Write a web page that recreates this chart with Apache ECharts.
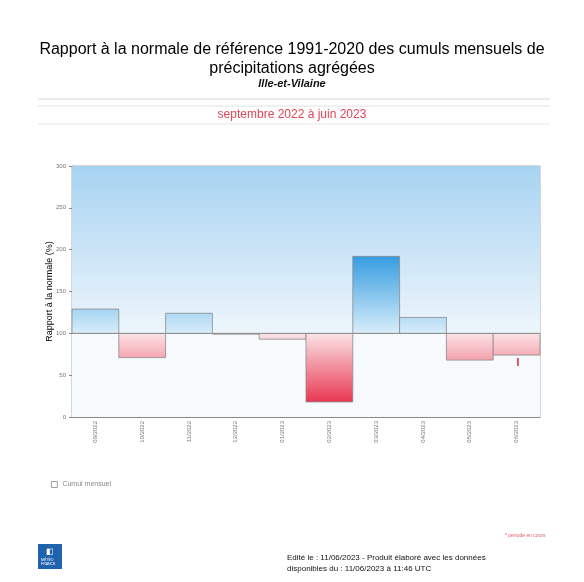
<!DOCTYPE html>
<html>
<head>
<meta charset="utf-8">
<script src="https://cdn.jsdelivr.net/npm/echarts@6/dist/echarts.min.js"></script>
<style>
  html, body { margin: 0; padding: 0; background: #fff; }
  #chart { width: 584px; height: 582px; }
</style>
</head>
<body>
<div id="chart"></div>
<script>
// mois et rapport à la normale (%)
var months = ['09/2022', '10/2022', '11/2022', '12/2022', '01/2023',
              '02/2023', '03/2023', '04/2023', '05/2023', '06/2023'];
var ratios = [129, 71, 124, 99, 93, 18, 192, 119, 68, 74];
var yTicks = [0, 50, 100, 150, 200, 250, 300];
var normale = 100;

var myChart = echarts.init(document.getElementById('chart'));

function renderBar(params, api) {
    var i = api.value(0);
    var v = api.value(1);
    var pBase = api.coord([i, normale]);
    var pVal = api.coord([i, v]);
    var w = api.size([1, 0])[0];
    var x = pBase[0] - w / 2;
    var fill;
    if (v >= normale) {
        var p200 = api.coord([i, 200]);
        fill = new echarts.graphic.LinearGradient(0, pBase[1], 0, p200[1], [
            {offset: 0, color: '#d8edfa'},
            {offset: 1, color: '#2896de'}
        ], true);
    } else {
        var p0 = api.coord([i, 15]);
        fill = new echarts.graphic.LinearGradient(0, pBase[1], 0, p0[1], [
            {offset: 0, color: '#fbe3e6'},
            {offset: 1, color: '#e8324d'}
        ], true);
    }
    var top = Math.min(pBase[1], pVal[1]);
    var h = Math.abs(pBase[1] - pVal[1]);
    var children = [{
        type: 'rect',
        shape: {x: x, y: top, width: w, height: h},
        style: {fill: fill, stroke: '#8a8a8a', lineWidth: 0.8}
    }];
    // mois en cours : petit repère rouge
    if (params.dataIndex === months.length - 1) {
        children.push({
            type: 'rect',
            shape: {x: pVal[0] + 0.5, y: pVal[1] + 3, width: 1.6, height: 8},
            style: {fill: '#e03048'}
        });
    }
    return {type: 'group', children: children};
}

var option = {
    backgroundColor: '#ffffff',
    textStyle: {fontFamily: 'Liberation Sans, Arial, sans-serif'},
    title: {
        text: 'Rapport à la normale de référence 1991-2020 des cumuls mensuels de\nprécipitations agrégées',
        subtext: 'Ille-et-Vilaine',
        left: 'center',
        top: 35,
        itemGap: 0,
        textStyle: {fontSize: 16, fontWeight: 'normal', color: '#000', lineHeight: 19},
        subtextStyle: {fontSize: 11, fontWeight: 'bold', fontStyle: 'italic', color: '#111'}
    },
    legend: {
        data: [{name: 'Cumul mensuel', icon: 'rect', itemStyle: {color: '#fff', borderColor: '#888', borderWidth: 0.8}}],
        left: 46,
        top: 476,
        itemWidth: 6,
        itemHeight: 6,
        itemGap: 4,
        textStyle: {fontSize: 7, color: '#888'}
    },
    grid: {
        left: 72,
        top: 166,
        width: 468,
        height: 251,
        show: true,
        borderColor: '#9a9a9a',
        borderWidth: 0.8
    },
    xAxis: {
        type: 'category',
        data: months,
        boundaryGap: true,
        axisLine: {lineStyle: {color: '#888'}},
        axisTick: {show: false},
        axisLabel: {rotate: 90, fontSize: 6, color: '#777', margin: 4}
    },
    yAxis: {
        type: 'value',
        min: yTicks[0],
        max: yTicks[yTicks.length - 1],
        interval: 50,
        name: 'Rapport à la normale (%)',
        nameLocation: 'middle',
        nameGap: 18,
        nameMoveOverlap: false,
        nameTextStyle: {fontSize: 9, color: '#000'},
        axisLine: {show: true, lineStyle: {color: '#888'}},
        axisTick: {show: true, length: 3, lineStyle: {color: '#888'}},
        axisLabel: {fontSize: 6, color: '#777', margin: 6},
        splitLine: {show: false}
    },
    series: [{
        name: 'Cumul mensuel',
        type: 'custom',
        renderItem: renderBar,
        data: ratios.map(function (v, i) { return [i, v]; }),
        encode: {x: 0, y: 1},
        z: 3,
        markArea: {
            silent: true,
            z: 1,
            data: [
                [{yAxis: normale, itemStyle: {color: new echarts.graphic.LinearGradient(0, 0, 0, 1, [
                    {offset: 0, color: '#a7d3f1'},
                    {offset: 1, color: '#eef6fc'}
                ])}}, {yAxis: yTicks[yTicks.length - 1]}],
                [{yAxis: yTicks[0], itemStyle: {color: '#f6fafd'}}, {yAxis: normale}]
            ]
        },
        markLine: {
            silent: true,
            symbol: 'none',
            label: {show: false},
            lineStyle: {color: '#8a8a8a', type: 'solid', width: 0.8},
            data: [{yAxis: normale}]
        }
    }],
    graphic: [
        {type: 'line', shape: {x1: 38, y1: 99, x2: 550, y2: 99}, style: {stroke: '#d8d8d8', lineWidth: 1}},
        {type: 'line', shape: {x1: 38, y1: 106, x2: 550, y2: 106}, style: {stroke: '#e2e2e2', lineWidth: 1}},
        {type: 'line', shape: {x1: 38, y1: 124, x2: 550, y2: 124}, style: {stroke: '#e6e6e6', lineWidth: 1}},
        {type: 'text', left: 'center', top: 109,
            style: {text: 'septembre 2022 à juin 2023', fontSize: 12, fill: '#e04455',
                    fontFamily: 'Liberation Sans, Arial, sans-serif'}},
        {type: 'text', left: 505, top: 533,
            style: {text: '* période en cours', fontSize: 5, fill: '#e0606e',
                    fontFamily: 'Liberation Sans, Arial, sans-serif'}},
        {type: 'text', left: 287, top: 552,
            style: {text: 'Edité le : 11/06/2023 - Produit élaboré avec les données\ndisponibles du : 11/06/2023 à 11:46 UTC',
                    fontSize: 8, lineHeight: 11, fill: '#111',
                    fontFamily: 'Liberation Sans, Arial, sans-serif'}},
        {type: 'rect', left: 38, top: 544, shape: {width: 24, height: 25},
            style: {fill: '#1f62ad'}},
        {type: 'text', left: 46, top: 548,
            style: {text: '◧', fontSize: 8, fill: '#fff'}},
        {type: 'text', left: 41, top: 558,
            style: {text: 'MÉTÉO\nFRANCE', fontSize: 3.5, lineHeight: 4, fill: '#fff', align: 'left',
                    fontFamily: 'Liberation Sans, Arial, sans-serif'}}
    ]
};
myChart.setOption(option);
</script>
</body>
</html>
